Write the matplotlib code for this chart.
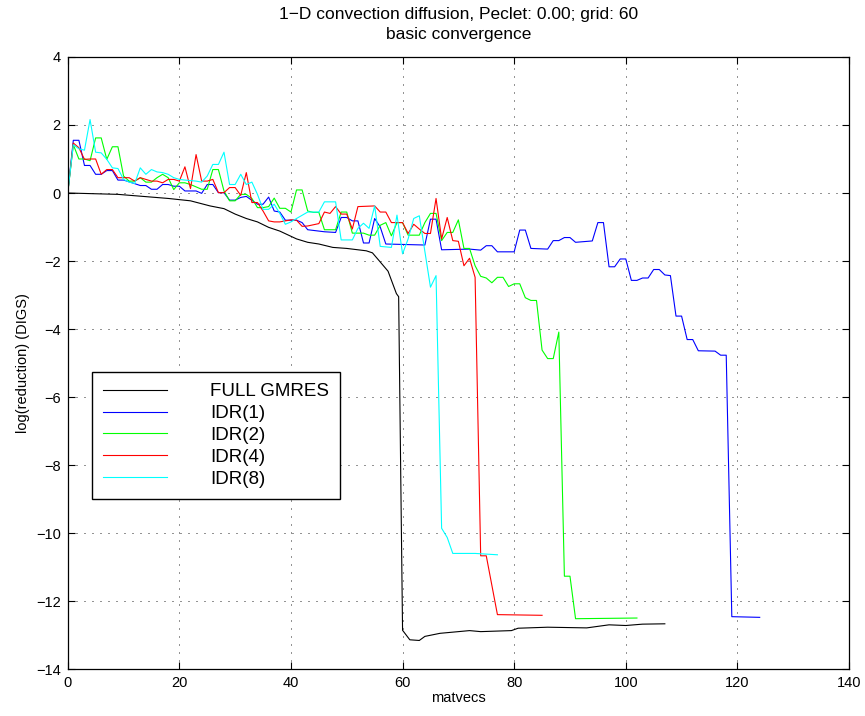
import numpy as np
import matplotlib.pyplot as plt

# full GMRES
gm_x = [0, 9, 18, 22, 25.5, 28, 30, 32, 34, 36, 38, 41, 43, 45, 47.5, 50, 53.5, 54.6, 55.8, 57.4, 58.9, 59.3,
        60, 61.3, 63, 64, 66.7, 72, 74, 79.5, 80.7, 86, 93, 97, 100, 103, 107]
gm_y = [0, -0.04, -0.16, -0.23, -0.38, -0.46, -0.62, -0.75, -0.85, -1.01, -1.12, -1.35, -1.45, -1.5, -1.6,
        -1.63, -1.7, -1.76, -1.99, -2.3, -2.96, -3.05,
        -12.86, -13.14, -13.16, -13.04, -12.95, -12.87, -12.9, -12.87, -12.8, -12.77, -12.79, -12.7, -12.72,
        -12.68, -12.67]

idr1_x = [0, 1, 2, 3, 4, 5, 6, 7, 8, 9, 10, 11, 13, 14, 15, 16, 17, 18, 19, 20, 21, 23, 24, 25, 26, 27, 28,
          29, 30, 31, 32, 34, 35, 36, 37, 38, 39, 41, 42, 43, 46, 48, 49, 50, 51, 52, 53, 54, 55, 56, 57, 64,
          65, 66, 67, 72, 74, 75, 76, 77, 80, 81, 82, 83, 86, 87, 88, 89, 90, 91, 94, 95, 96, 97, 98, 99, 100,
          101, 102, 103, 104, 105, 106, 107, 108, 109, 110, 111, 112, 113, 116, 117, 118, 119, 124]
idr1_y = [0, 1.55, 1.55, 0.81, 0.81, 0.55, 0.55, 0.66, 0.66, 0.38, 0.38, 0.33, 0.22, 0.22, 0.11, 0.11, 0.25,
          0.25, 0.2, 0.2, 0.06, 0.06, -0.01, 0.25, 0.25, 0.01, 0.01, -0.21, -0.21, -0.13, -0.1, -0.33, -0.33,
          -0.12, -0.53, -0.56, -0.8, -0.8, -0.87, -1.08, -1.14, -1.16, -0.72, -0.72, -0.82, -0.82, -1.47,
          -1.47, -0.75, -1.0, -1.5, -1.53, -0.77, -0.77, -1.67, -1.65, -1.68, -1.55, -1.55, -1.73, -1.73,
          -1.09, -1.09, -1.63, -1.65, -1.4, -1.4, -1.31, -1.31, -1.45, -1.41, -0.87, -0.87, -2.17, -2.17,
          -1.94, -1.94, -2.57, -2.57, -2.5, -2.5, -2.25, -2.25, -2.41, -2.43, -3.62, -3.62, -4.31, -4.31,
          -4.64, -4.65, -4.77, -4.77, -12.46, -12.48]

idr2_x = [0, 1, 2, 3, 4, 5, 6, 7, 8, 9, 10, 11, 12, 13, 14, 15, 16, 17, 18, 19, 20, 21, 22, 24, 25, 26, 27,
          28, 29, 30, 31, 32, 33, 34, 35, 36, 37, 38, 39, 40, 41, 42, 43, 44, 45, 46, 48, 49, 50, 51, 53, 54,
          55, 56, 57, 58, 59, 60, 61, 63, 64, 65, 66, 67, 68, 69, 70, 71, 72, 73, 74, 75, 76, 77, 78, 79, 80,
          81, 82, 83, 84, 85, 86, 87, 88, 89, 90, 91, 102]
idr2_y = [0, 1.42, 1.0, 1.0, 0.95, 1.62, 1.62, 0.99, 1.36, 1.36, 0.5, 0.35, 0.35, 0.45, 0.32, 0.32, 0.45,
          0.55, 0.45, 0.1, 0.3, 0.3, 0.25, 0.11, 0.11, 0.69, 0.69, 0.06, -0.23, -0.23, -0.04, -0.04, -0.16,
          -0.43, -0.43, -0.4, -0.15, -0.45, -0.45, -0.56, 0.09, 0.09, -0.53, -0.57, -0.57, -1.08, -1.08,
          -0.56, -0.56, -1.18, -1.18, -1.24, -1.24, -0.95, -0.87, -1.26, -0.87, -0.87, -1.24, -1.24, -0.87,
          -0.6, -0.6, -1.4, -1.16, -1.16, -0.79, -1.63, -1.63, -2.14, -2.45, -2.5, -2.64, -2.48, -2.48,
          -2.75, -2.67, -2.67, -3.08, -3.16, -3.16, -4.62, -4.87, -4.87, -4.09, -11.27, -11.27, -12.52,
          -12.5]

idr4_x = [0, 1, 2, 3, 4, 5, 6, 7, 8, 9, 11, 12, 13, 14, 15, 16, 17, 18, 19, 20, 21, 22, 23, 24, 25, 26, 27,
          28, 29, 30, 31, 32, 33, 34, 35, 36, 37, 38, 40, 41, 42, 43, 45, 46, 47, 48, 49, 50, 51, 52, 55, 56,
          57, 58, 60, 61, 62, 63, 64, 65, 66, 67, 68, 69, 70, 71, 72, 73, 74, 75, 77, 85]
idr4_y = [0, 1.47, 1.33, 0.99, 1.0, 1.0, 0.55, 0.69, 0.69, 0.45, 0.45, 0.35, 0.45, 0.4, 0.35, 0.35, 0.3, 0.4,
          0.4, 0.35, 0.77, 0.13, 1.13, 0.35, 0.35, 0.4, 0.01, 0.01, 0.16, 0.16, -0.07, 0.6, -0.28, -0.28,
          -0.53, -0.82, -0.85, -0.85, -0.79, -0.8, -0.98, -0.97, -0.9, -0.56, -0.6, -0.4, -0.62, -0.62,
          -1.06, -0.4, -0.38, -0.56, -0.56, -0.87, -0.87, -1.19, -0.92, -1.06, -1.19, -1.19, -0.16, -1.35,
          -0.72, -1.4, -1.42, -2.14, -1.92, -2.48, -10.67, -10.67, -12.4, -12.42]

idr8_x = [0, 1, 2, 3, 4, 5, 6, 7, 8, 9, 10, 11, 12, 13, 14, 15, 16, 17, 18, 19, 20, 21, 23, 24, 25, 26, 27,
          28, 29, 30, 31, 32, 33, 34, 35, 36, 37, 38, 39, 40, 41, 43, 45, 46, 48, 49, 51, 52, 53, 54, 55, 56,
          58, 59, 60, 61, 62, 63, 65, 66, 67, 68, 69, 73, 77]
idr8_y = [0, 1.42, 1.3, 1.26, 2.16, 1.2, 1.18, 0.99, 0.74, 0.72, 0.4, 0.32, 0.28, 0.74, 0.55, 0.69, 0.62,
          0.6, 0.55, 0.45, 0.4, 0.38, 0.35, 0.32, 0.5, 0.84, 0.84, 1.2, 0.25, 0.25, 0.55, 0.25, 0.32, -0.04,
          -0.48, -0.48, -0.33, -0.6, -0.92, -0.85, -0.75, -0.56, -0.56, -0.26, -0.26, -1.38, -1.38, -1.04,
          -0.89, -1.04, -0.38, -1.57, -1.6, -0.65, -1.79, -1.35, -0.75, -0.67, -2.77, -2.43, -9.86, -10.13,
          -10.6, -10.6, -10.64]

labels = ["FULL GMRES", "IDR(1)", "IDR(2)", "IDR(4)", "IDR(8)"]
colors = ["black", "#0000ff", "#00ff00", "#ff0000", "#00ffff"]

plt.rcParams['font.family'] = ['Liberation Sans', 'DejaVu Sans']

fig = plt.figure(figsize=(8.65, 7.16), dpi=100)
ax = fig.add_axes([0.0783, 0.0656, 0.9032, 0.8548])

series = [(gm_x, gm_y), (idr1_x, idr1_y), (idr2_x, idr2_y), (idr4_x, idr4_y), (idr8_x, idr8_y)]
for (xs, ys), lab, c in zip(series, labels, colors):
    ax.plot(xs, ys, color=c, lw=0.8, label=lab)

ax.set_xlim(0, 140)
ax.set_ylim(-14, 4)
ax.set_xticks(np.arange(0, 141, 20))
ax.set_yticks(np.arange(-14, 5, 2))
ax.set_yticklabels([("\u2212%d" % -v) if v < 0 else str(v) for v in range(-14, 5, 2)])
ax.tick_params(direction='in', top=True, right=True, length=5, width=0.8, labelsize=10.5, pad=5)
for s in ax.spines.values():
    s.set_linewidth(0.9)
ax.grid(True, color='black', linestyle=(0, (1.2, 8.4)), linewidth=0.6)

ax.set_title("1\u2212D convection diffusion, Peclet: 0.00; grid: 60\nbasic convergence",
             fontsize=12.5, pad=13, linespacing=1.4)
ax.set_xlabel("matvecs", fontsize=10.5, labelpad=1)
ax.set_ylabel("log(reduction) (DIGS)", fontsize=10.5, labelpad=4)

leg = ax.legend(loc='lower left', bbox_to_anchor=(0.031, 0.278), fontsize=13.5, fancybox=False,
                edgecolor='black', framealpha=1, handlelength=3.4, handletextpad=2.3,
                labelspacing=0.25, borderpad=0.6, borderaxespad=0)
leg.get_frame().set_linewidth(1.0)

fig.savefig("out.png", dpi=100)
